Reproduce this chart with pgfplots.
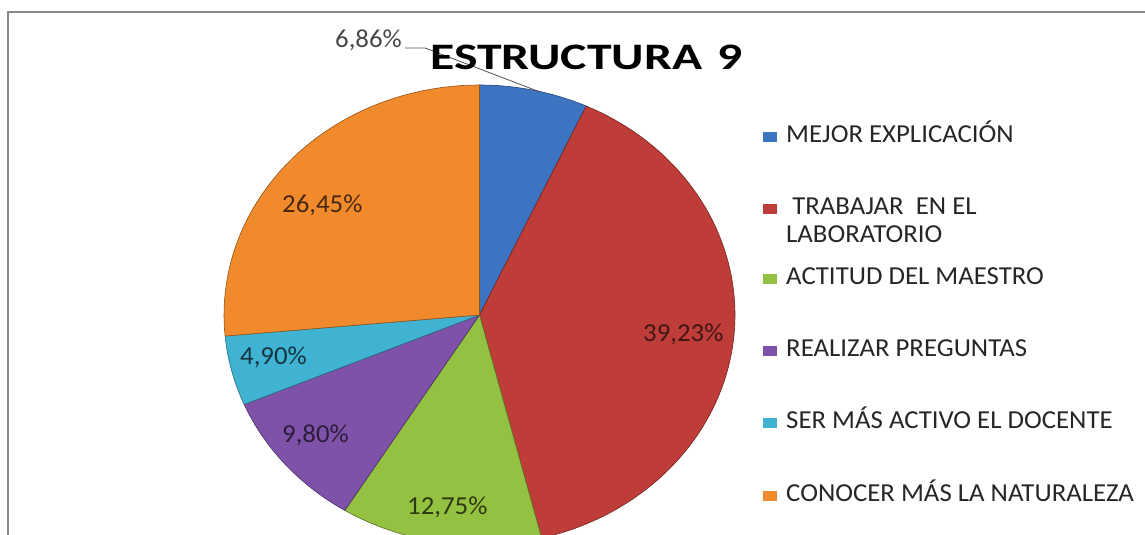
\documentclass[border=0pt]{standalone}
\usepackage{pgfplots}
\pgfplotsset{compat=1.18}
\usepackage{fontspec}
\setmainfont{Carlito}[FakeStretch=1.035]
\newfontfamily\titlefont{Carlito}[FakeStretch=1.33]
\definecolor{cBlue}{HTML}{3C74C2}
\definecolor{cRed}{HTML}{BF3D38}
\definecolor{cGreen}{HTML}{94C141}
\definecolor{cPurple}{HTML}{7E52A8}
\definecolor{cCyan}{HTML}{40B3D3}
\definecolor{cOrange}{HTML}{F18A2C}
\definecolor{frame}{HTML}{8A8A8A}
\definecolor{txt}{HTML}{262626}
\newcommand{\lf}{\fontsize{26}{30}\selectfont}
\begin{document}
\begin{tikzpicture}
\begin{axis}[
  width=1145bp, height=535bp, scale only axis,
  xmin=0, xmax=1145, ymin=0, ymax=535,
  hide axis, clip=true,
]
% frame
\draw[frame, line width=2bp] (axis cs:8,0) -- (axis cs:8,523) -- (axis cs:1145,523);
% slices: domain = cumulative percentages (6.86, 39.23, 12.75, 9.80, 4.90, 26.45)
\addplot[fill=cBlue, draw=cBlue!60!black, line width=0.6bp, domain=0:6.86, samples=20, variable=\t]
  ({479.5+255.5*cos(90-3.6*\t)},{220+230*sin(90-3.6*\t)}) -- (axis cs:479.5,220) -- cycle;
\addplot[fill=cRed, draw=cRed!60!black, line width=0.6bp, domain=6.86:46.09, samples=80, variable=\t]
  ({479.5+255.5*cos(90-3.6*\t)},{220+230*sin(90-3.6*\t)}) -- (axis cs:479.5,220) -- cycle;
\addplot[fill=cGreen, draw=cGreen!60!black, line width=0.6bp, domain=46.09:58.84, samples=30, variable=\t]
  ({479.5+255.5*cos(90-3.6*\t)},{220+230*sin(90-3.6*\t)}) -- (axis cs:479.5,220) -- cycle;
\addplot[fill=cPurple, draw=cPurple!60!black, line width=0.6bp, domain=58.84:68.64, samples=25, variable=\t]
  ({479.5+255.5*cos(90-3.6*\t)},{220+230*sin(90-3.6*\t)}) -- (axis cs:479.5,220) -- cycle;
\addplot[fill=cCyan, draw=cCyan!60!black, line width=0.6bp, domain=68.64:73.54, samples=15, variable=\t]
  ({479.5+255.5*cos(90-3.6*\t)},{220+230*sin(90-3.6*\t)}) -- (axis cs:479.5,220) -- cycle;
\addplot[fill=cOrange, draw=cOrange!60!black, line width=0.6bp, domain=73.54:100, samples=60, variable=\t]
  ({479.5+255.5*cos(90-3.6*\t)},{220+230*sin(90-3.6*\t)}) -- (axis cs:479.5,220) -- cycle;
% data labels
\node[anchor=base west, inner sep=0, font=\lf, text=txt!85] at (axis cs:335,487) {6,86\%};
\draw[txt!80, line width=0.8bp] (axis cs:405,487) -- (axis cs:425,487) -- (axis cs:540,443);
\node[anchor=base west, inner sep=0, font=\lf, text=cRed!35!black] at (axis cs:643,193) {39,23\%};
\node[anchor=base west, inner sep=0, font=\lf, text=cGreen!30!black] at (axis cs:407,20) {12,75\%};
\node[anchor=base west, inner sep=0, font=\lf, text=cPurple!35!black] at (axis cs:282,92) {9,80\%};
\node[anchor=base west, inner sep=0, font=\lf, text=cCyan!30!black] at (axis cs:240,170) {4,90\%};
\node[anchor=base west, inner sep=0, font=\lf, text=cOrange!30!black] at (axis cs:282,322) {26,45\%};
% title
\node[anchor=base west, inner sep=0, font=\titlefont\bfseries\fontsize{37.5}{42}\selectfont] at (axis cs:430,465) {ESTRUCTURA\hspace{15bp}9};
% legend
\node[anchor=center, inner sep=0, minimum width=14bp, minimum height=10bp, fill=cBlue] at (axis cs:770,398) {};
\node[anchor=base west, inner sep=0, font=\lf, text=txt] at (axis cs:786,392) {MEJOR EXPLICACIÓN};
\node[anchor=center, inner sep=0, minimum width=14bp, minimum height=10bp, fill=cRed] at (axis cs:770,326) {};
\node[anchor=base west, inner sep=0, font=\lf, text=txt] at (axis cs:786,320) {\ TRABAJAR\ \ EN EL};
\node[anchor=base west, inner sep=0, font=\lf, text=txt] at (axis cs:786,292) {LABORATORIO};
\node[anchor=center, inner sep=0, minimum width=14bp, minimum height=10bp, fill=cGreen] at (axis cs:770,256) {};
\node[anchor=base west, inner sep=0, font=\lf, text=txt] at (axis cs:786,250) {ACTITUD DEL MAESTRO};
\node[anchor=center, inner sep=0, minimum width=14bp, minimum height=10bp, fill=cPurple] at (axis cs:770,184) {};
\node[anchor=base west, inner sep=0, font=\lf, text=txt] at (axis cs:786,178) {REALIZAR PREGUNTAS};
\node[anchor=center, inner sep=0, minimum width=14bp, minimum height=10bp, fill=cCyan] at (axis cs:770,112) {};
\node[anchor=base west, inner sep=0, font=\lf, text=txt] at (axis cs:786,106) {SER MÁS ACTIVO EL DOCENTE};
\node[anchor=center, inner sep=0, minimum width=14bp, minimum height=10bp, fill=cOrange] at (axis cs:770,39) {};
\node[anchor=base west, inner sep=0, font=\lf, text=txt] at (axis cs:786,33) {CONOCER MÁS LA NATURALEZA};
\end{axis}
\pgfresetboundingbox
\useasboundingbox (0,0) rectangle (1145bp,535bp);
\end{tikzpicture}
\end{document}
